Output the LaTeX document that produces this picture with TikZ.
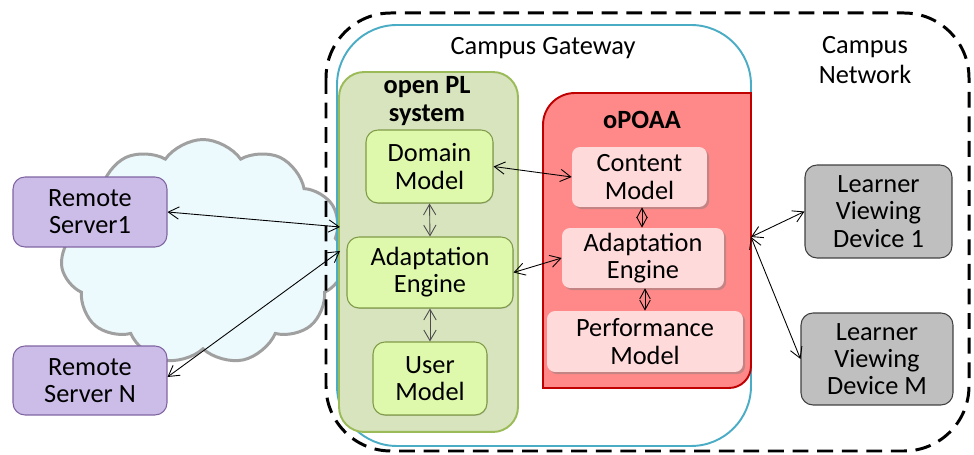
\documentclass[tikz,border=0pt]{standalone}
\usepackage{fontspec}
\setmainfont{Carlito}
\usetikzlibrary{arrows.meta,shapes.symbols,shadows}

\definecolor{srvfill}{RGB}{204,188,232}
\definecolor{srvline}{RGB}{128,100,162}
\definecolor{plfill}{RGB}{215,228,189}
\definecolor{plline}{RGB}{155,187,89}
\definecolor{modfill}{RGB}{222,248,172}
\definecolor{modline}{RGB}{128,155,72}
\definecolor{oafill}{RGB}{255,136,136}
\definecolor{oaline}{RGB}{192,0,0}
\definecolor{pinkfill}{RGB}{255,218,218}
\definecolor{devfill}{RGB}{191,191,191}
\definecolor{devline}{RGB}{64,64,64}
\definecolor{gwline}{RGB}{75,172,198}
\definecolor{cloudline}{RGB}{160,160,160}
\definecolor{cloudfill}{RGB}{236,249,253}

\tikzset{
    box/.style={rectangle, rounded corners=0.24cm, inner sep=0pt, align=center,
        font=\fontsize{15}{15.5}\selectfont},
    server/.style={box, draw=srvline, fill=srvfill, line width=0.6pt},
    plmod/.style={box, draw=modline, fill=modfill, line width=0.6pt,
        drop shadow={shadow xshift=0.3pt, shadow yshift=-0.5pt, opacity=0.35}},
    oamod/.style={box, rounded corners=0.16cm, fill=pinkfill,
        drop shadow={shadow xshift=1.2pt, shadow yshift=-1.2pt, opacity=0.45}},
    device/.style={box, draw=devline, fill=devfill, line width=0.6pt},
    link/.style={{Straight Barb[length=6pt,width=7pt]}-{Straight Barb[length=6pt,width=7pt]}, line width=0.5pt},
    diam/.style={{Straight Barb[length=5.5pt,width=6pt]}-{Straight Barb[length=5.5pt,width=6pt]}, line width=0.5pt},
    label/.style={align=center, font=\fontsize{15}{17.5}\selectfont},
}

\begin{document}
\begin{tikzpicture}[x=0.02cm, y=-0.02cm]
    \useasboundingbox (0,0) rectangle (974,455);

    % Draw the cloud behind everything
    \node [cloud, cloud puffs=11, cloud puff arc=110, draw=cloudline, fill=cloudfill,
        line width=1.7pt, minimum width=5.7cm, minimum height=4.5cm, inner sep=0pt]
        (cloud) at (203,252) {};

    % Draw campus network and gateway
    \draw [line width=1.7pt, dash pattern=on 9pt off 5pt, rounded corners=1.3cm]
        (326,13) rectangle (969,451);
    \draw [gwline, line width=1.1pt, rounded corners=1.2cm]
        (337,446) rectangle (751,25);
    \node [label] (gwlabel) at (543,48) {Campus Gateway};
    \node [label] (netlabel) at (865,60) {Campus\\Network};

    % Draw open PL system
    \node [box, rounded corners=0.5cm, draw=plline, fill=plfill, line width=1.1pt,
        minimum width=3.58cm, minimum height=7.2cm] (pl) at (428.5,252) {};
    \node [label, font=\fontsize{15}{15.5}\selectfont\bfseries] (pllabel) at (427,101) {open PL\\system};
    \node [plmod, minimum width=2.54cm, minimum height=1.46cm] (dm) at (429.5,166.5) {Domain\\Model};
    \node [plmod, minimum width=3.32cm, minimum height=1.42cm] (ae) at (430,272.5) {Adaptation\\Engine};
    \node [plmod, minimum width=2.28cm, minimum height=1.46cm] (um) at (430,378.5) {User\\Model};

    % Draw oPOAA
    \filldraw [fill=oafill, draw=oaline, line width=1.1pt]
        (543,388) -- (543,125) to[out=90, in=180] (575,93) -- (751,93)
        -- (751,366) to[out=-90, in=0] (729,388) -- cycle;
    \coordinate (oaright) at (751,237);
    \node [label, font=\fontsize{15}{15.5}\selectfont\bfseries] (oalabel) at (642,120) {oPOAA};
    \node [oamod, minimum width=2.7cm, minimum height=1.2cm] (cm) at (639.5,177) {Content\\Model};
    \node [oamod, minimum width=3.24cm, minimum height=1.2cm] (rae) at (643,258) {Adaptation\\Engine};
    \node [oamod, minimum width=3.92cm, minimum height=1.22cm] (pm) at (645,341.5) {Performance\\Model};

    % Draw remote servers and devices
    \node [server, minimum width=3.08cm, minimum height=1.4cm] (rs1) at (90,212) {Remote\\Server1};
    \node [server, minimum width=3.08cm, minimum height=1.38cm] (rsn) at (90,380.5) {Remote\\Server N};
    \node [device, minimum width=2.94cm, minimum height=1.86cm] (ld1) at (878.5,211.5) {Learner\\Viewing\\Device 1};
    \node [device, minimum width=3.04cm, minimum height=1.84cm] (ldm) at (877,359) {Learner\\Viewing\\Device M};

    % Draw links
    \coordinate (plin1) at (340,227);
    \coordinate (plin2) at (340,251);
    \draw [link] (rs1.east) -- (plin1);
    \draw [link] ([yshift=0.07cm]rsn.east) -- (plin2);
    \draw [link] (dm.east) -- (cm.west);
    \draw [link] (ae.east) -- (rae.west);
    \draw [link, black!70] (dm.south) -- (ae.north);
    \draw [link, black!70] (ae.south) -- (um.north);
    \draw [diam] ([xshift=0.05cm]cm.south) -- ([xshift=0.05cm]cm.south |- rae.north);
    \draw [diam] ([xshift=0.04cm]rae.south) -- ([xshift=0.04cm]rae.south |- pm.north);
    \draw [link] (oaright) -- (ld1.west);
    \draw [link] (oaright) -- (ldm.west);
\end{tikzpicture}
\end{document}
